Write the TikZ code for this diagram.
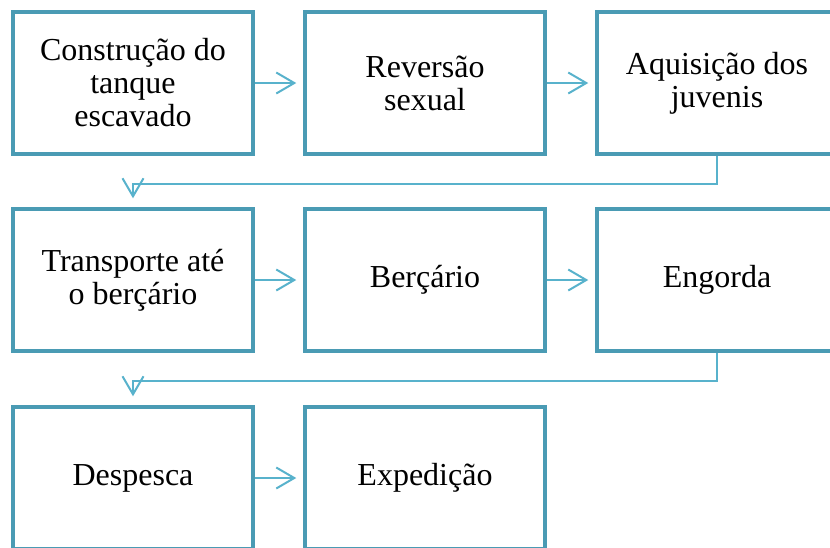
\documentclass[tikz,border=0pt]{standalone}
\usepackage{fontspec}
\setmainfont{Liberation Serif}
\usetikzlibrary{arrows.meta}
\definecolor{boxc}{RGB}{74,155,180}
\definecolor{connc}{RGB}{88,178,204}
\begin{document}
\begin{tikzpicture}[x=1pt,y=-1pt,
  stepbox/.style={draw=boxc,line width=3.5pt,rectangle,minimum width=240pt,minimum height=142pt,
    inner sep=0pt,align=center,text=black,font=\fontsize{32}{33}\selectfont},
  conn/.style={draw=connc,line width=2pt,-{Straight Barb[length=18pt,width=21pt]}}]
\clip (0,0) rectangle (830,547);
\fill[white] (0,0) rectangle (830,547);
\node[stepbox] (a) at (133,83) {Construção do\\tanque\\escavado};
\node[stepbox] (b) at (425,83) {Reversão\\sexual};
\node[stepbox] (c) at (717,83) {Aquisição dos\\juvenis};
\node[stepbox] (d) at (133,280) {Transporte até\\o berçário};
\node[stepbox] (e) at (425,280) {Berçário};
\node[stepbox] (f) at (717,280) {Engorda};
\node[stepbox] (g) at (133,478) {Despesca};
\node[stepbox] (h) at (425,478) {Expedição};
\draw[conn,shorten >=7pt] (a.east) -- (b.west);
\draw[conn,shorten >=7pt] (b.east) -- (c.west);
\draw[conn,shorten >=7pt] (d.east) -- (e.west);
\draw[conn,shorten >=7pt] (e.east) -- (f.west);
\draw[conn,shorten >=7pt] (g.east) -- (h.west);
\draw[conn,shorten >=9pt] (c.south) -- ++(0,28) -| (d.north);
\draw[conn,shorten >=9pt] (f.south) -- ++(0,28) -| (g.north);
\end{tikzpicture}
\end{document}
